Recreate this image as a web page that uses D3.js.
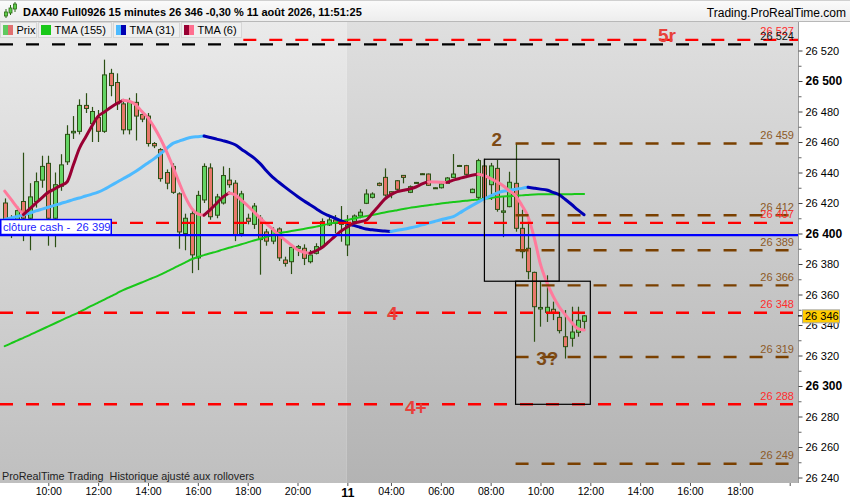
<!DOCTYPE html>
<html>
<head>
<meta charset="utf-8">
<script src="https://cdn.jsdelivr.net/npm/d3@7/dist/d3.min.js"></script>
<style>
  html, body { margin: 0; padding: 0; background: #ffffff; }
  svg { display: block; font-family: "Liberation Sans", Arial, Helvetica, sans-serif; }
  text { white-space: pre; }
</style>
</head>
<body>
<svg id="chart" width="850" height="500"></svg>
<script>
// ---------------- DATA ----------------
const opens = [26420,26409,26405,26421,26410,26421,26435,26446,26410,26431,
  26447,26466,26467,26484,26472,26476,26467,26505,26499,26485,
  26468,26486,26478,26477,26459,26455,26440,26444,26426,26400,
  26413,26384,26422,26443,26412,26420,26435,26433,26400,26410,
  26406,26410,26401,26395,26403,
  26382.6,26381.5,26390.3,26390.3,26381.5,26387,26391.4,26405.6,26408.9,26408.2,
  26392.5,26407.8,26411.5,26419.8,26423.7,26432.9,26436.8,26427.4,26434.6,26438.1,
  26427,26433.5,26439.2,26439,26430,26430,26432.9,26436.8,26444.3,26444.5,
  26426.8,26423.7,26444.3,26432,26442.7,
  26413.9,26417.6,26432.9,26403.4,26390.3,26374.5,26350.5,26348.3,26350.3,26345,
  26332.3,26331.3,26335.2,26342.4];
const highs = [26423,26412,26418,26453,26433,26440,26451,26451,26440,26452,
  26471,26477,26488,26492,26483,26481,26514,26508,26505,26488,
  26489,26492,26480,26479,26460,26456,26442,26446,26427,26413,
  26415,26428,26446,26446,26426,26444,26443,26435,26428,26413,
  26420,26412,26403,26404,26404,
  26384.8,26391.4,26392.5,26392.9,26389.2,26393.6,26409.9,26412.1,26412.1,26418,
  26412.1,26412.5,26416,26429,26427,26433.5,26442.7,26427.6,26435,26438.2,
  26431.5,26433.8,26439.5,26439.3,26430.3,26433,26437,26452.1,26445,26445,
  26429.5,26449,26449,26446.3,26448.2,
  26424.1,26440.5,26459,26415.6,26410,26375,26368.4,26372.6,26355.3,26348.7,
  26349.8,26352,26352,26346.4];
const lows = [26404,26397,26402,26395,26389,26417,26430,26392,26391,26428,
  26445,26462,26465,26479,26460,26460,26466,26490,26481,26465,
  26465,26461,26473,26457,26456,26434,26429,26426,26390,26389,
  26374,26376,26420,26409,26410,26419,26430,26395,26398,26406,
  26403,26373,26392,26393,26382,
  26378.3,26373.4,26385.2,26379.3,26380.4,26386.3,26391.4,26404.9,26400.1,26394.6,
  26385.2,26406.5,26410,26419.3,26423,26431,26424.2,26423.1,26428,26432.9,
  26426.5,26432.8,26438.5,26431.2,26429.3,26429.5,26432.5,26436.5,26444,26438.5,
  26426.5,26422,26420,26422,26414.3,
  26397.6,26417.2,26401.2,26383.7,26370,26329,26338.9,26342,26343.2,26334.5,
  26318,26325.8,26332.3,26336.5];
const closes = [26409,26405,26415,26410,26424,26434,26444,26410,26432,26445,
  26465,26467,26484,26482,26480,26467,26504,26497,26485,26468,
  26486,26477,26475,26459,26457.5,26436,26433,26427,26401,26410,
  26386,26425,26444,26411,26424,26438,26432,26399,26426,26408,
  26418,26396,26395,26402,26384,
  26380.4,26390.9,26391.4,26383.7,26385.9,26391.4,26407.8,26408.9,26406.7,26406,
  26405.6,26411.5,26414,26425.9,26425.9,26431.6,26425.2,26426.3,26429,26436.8,
  26430.7,26433.1,26438.8,26431.6,26429.6,26432.5,26436.4,26439,26444.6,26438.8,
  26429,26447.8,26423.1,26444.3,26415.8,
  26414.8,26433.6,26403.4,26388.1,26375,26352,26351.5,26351.6,26348.1,26336.3,
  26325.8,26335.4,26343.1,26346];

const tma155 = [26326.1,26327.9,26329.8,26331.6,26333.4,26335.3,26337.2,26339.1,26341.0,26342.9,
  26344.8,26346.6,26348.5,26350.6,26352.7,26354.7,26356.7,26358.8,26360.8,26362.9,
  26364.6,26366.2,26367.9,26369.6,26371.2,26373.0,26375.0,26377.0,26379.1,26381.1,
  26383.1,26384.6,26385.8,26387.0,26388.1,26389.4,26390.6,26391.7,26392.9,26394.2,
  26395.4,26396.6,26397.8,26399.0,26400.1,26400.9,26401.6,26402.3,26403.0,26403.7,
  26404.5,26405.4,26406.3,26407.1,26408.1,26408.9,26409.8,26410.6,26411.4,26412.2,
  26413.0,26413.8,26414.6,26415.3,26416.0,26416.8,26417.4,26418.0,26418.6,26419.1,
  26419.7,26420.2,26420.7,26421.0,26421.4,26421.9,26422.3,26422.8,26423.3,26423.9,
  26424.3,26424.5,26424.8,26425.0,26425.3,26425.6,26425.7,26425.8,26425.8,26425.8,
  26425.8,26425.8,26425.9,26425.9];
const tma31 = [26409.2,26410.2,26411.2,26412.2,26413.4,26414.8,26416.0,26417.2,26418.4,26419.7,
  26420.9,26422.2,26423.3,26424.6,26425.8,26427.1,26429.0,26431.3,26433.6,26435.9,
  26438.1,26440.6,26443.5,26446.3,26449.1,26452.3,26455.7,26459.1,26460.6,26462.0,
  26463.1,26463.5,26463.9,26462.9,26461.9,26460.9,26459.8,26458.2,26455.3,26452.5,
  26449.6,26445.8,26441.1,26436.9,26433.6,26430.4,26427.3,26424.3,26421.5,26418.9,
  26416.3,26413.6,26411.7,26410.0,26408.3,26406.6,26405.3,26404.1,26402.9,26402.4,
  26402.0,26401.6,26401.3,26402.1,26402.8,26403.6,26404.5,26405.7,26406.8,26407.9,
  26409.0,26410.0,26411.0,26413.4,26415.9,26418.3,26420.6,26422.8,26424.6,26426.5,
  26427.7,26428.3,26429.0,26429.6,26430.3,26429.7,26429.1,26428.5,26427.0,26425.4,
  26422.3,26419.0,26415.5,26412.3];
const tma6 = [26427.8,26422.5,26417.1,26412.4,26416.1,26419.9,26423.6,26427.0,26429.2,26431.5,
  26433.8,26444.7,26455.9,26463.3,26470.5,26476.9,26479.7,26482.6,26485.2,26487.4,
  26486.7,26484.5,26480.1,26475.8,26469.6,26462.2,26453.5,26443.7,26433.4,26423.8,
  26416.5,26412.8,26412.0,26415.6,26419.7,26423.8,26426.6,26425.3,26421.8,26418.2,
  26414.2,26410.1,26406.4,26402.8,26399.1,26395.7,26392.5,26389.3,26387.7,26387.1,
  26388.7,26391.0,26394.5,26398.2,26401.6,26404.3,26406.8,26407.7,26408.7,26413.2,
  26417.9,26422.6,26425.5,26427.5,26428.3,26429.2,26430.5,26432.5,26434.0,26433.8,
  26433.6,26433.5,26435.0,26436.1,26437.2,26438.2,26438.9,26438.0,26436.0,26433.9,
  26431.3,26428.0,26424.7,26418.5,26411.0,26397.2,26379.7,26368.1,26359.1,26352.0,
  26346.6,26341.7,26337.6,26336.7];

const dayBreakIndex = 55;
const xTickIndex  = [7, 15, 23, 31, 39, 47, 55, 62, 70, 78, 86, 94, 102, 110, 118, 126];
const xTickLabels = ["10:00","12:00","14:00","16:00","18:00","20:00","11","04:00","06:00","08:00","10:00","12:00","14:00","16:00","18:00",""];
const yTickValues = [26240,26260,26280,26300,26320,26340,26360,26380,26400,26420,26440,26460,26480,26500,26520];
const yTickLabels = ["26 240","26 260","26 280","26 300","26 320","26 340","26 360","26 380","26 400","26 420","26 440","26 460","26 480","26 500","26 520"];
const yMinorTicks = [26250,26270,26290,26310,26330,26350,26370,26390,26410,26430,26450,26470,26490,26510];

const levelPrices = [26527, 26524, 26459, 26412, 26389, 26366, 26319, 26249, 26407, 26348, 26288];
const levelLabels = ["26 527","26 524","26 459","26 412","26 389","26 366","26 319","26 249","26 407","26 348","26 288"];
const levelKinds  = ["red","black","brown","brown","brown","brown","brown","brown","red","red","red"];
const levelStart  = [38.3, null, 82, 82, 82, 82, 82, 82, null, null, null];

const boxStart = [77, 82];
const boxEnd   = [89, 94];
const boxHigh  = [26448.7, 26368.7];
const boxLow   = [26368.7, 26288];

const annTexts = ["5r", "2", "3?", "4", "4+"];
const annIndex = [106.3, 79, 87.1, 62.2, 66.0];
const annPrice = [26525.8, 26457.4, 26313.8, 26343.3, 26281.6];
const annKinds = ["red", "brown", "brown", "red", "red"];

const cashPrice = 26399;
const cashLabel = "clôture cash -  26 399";
const lastLabel = "26 346";
const titleText = "DAX40 Full0926 15 minutes 26 346 -0,30 % 11 août 2026, 11:51:25";
const siteText = "Trading.ProRealTime.com";
const footText = "ProRealTime Trading  Historique ajusté aux rollovers";
const legendLabels = ["Prix", "TMA (155)", "TMA (31)", "TMA (6)"];

// ---------------- LAYOUT / STYLE ----------------
const W = 850, H = 500;
const plot = {left: 0, right: 798, top: 22, bottom: 483};
const FONT = '"Liberation Sans", Arial, Helvetica, sans-serif';
const C = {
  up: "#63d463", down: "#e8786b", wick: "#2c4f14",
  t155: "#19c819", t31up: "#4dbaff", t31dn: "#0000b4", t6up: "#990033", t6dn: "#ff7a9c",
  red: "#ff0000", brown: "#7a4000", black: "#000000",
  redText: "#ff2d2d", brownText: "#8c5a28", blackText: "#111111",
  annRed: "#e8403a", annBrown: "#7d4a15", cash: "#0000ff"
};

const x = d3.scaleLinear().domain([0, 93]).range([4.7, 584.1]);
const y = d3.scaleLinear().domain([26240, 26520]).range([477.5, 50.5]);

const svg = d3.select("#chart");
const defs = svg.append("defs");
function grad(id, c0, c1) {
  const g = defs.append("linearGradient").attr("id", id).attr("x1", 0).attr("y1", 0).attr("x2", 0).attr("y2", 1);
  g.append("stop").attr("offset", "0%").attr("stop-color", c0);
  g.append("stop").attr("offset", "100%").attr("stop-color", c1);
}
grad("bgA", "#eaeaea", "#bfbfbf");
grad("bgB", "#dfdfdf", "#b3b3b3");
grad("hdr", "#fbfbfb", "#ededed");
defs.append("clipPath").attr("id", "plotClip").append("rect")
  .attr("x", plot.left).attr("y", plot.top).attr("width", plot.right - plot.left).attr("height", plot.bottom - plot.top);

svg.append("rect").attr("width", W).attr("height", H).attr("fill", "#ffffff");

// plot background (two sessions)
const dayX = x(dayBreakIndex) - 0.5;
svg.append("rect").attr("x", plot.left).attr("y", plot.top).attr("width", dayX - plot.left).attr("height", plot.bottom - plot.top).attr("fill", "url(#bgA)");
svg.append("rect").attr("x", dayX).attr("y", plot.top).attr("width", plot.right - dayX).attr("height", plot.bottom - plot.top).attr("fill", "url(#bgB)");

const pg = svg.append("g").attr("clip-path", "url(#plotClip)");

// candles
const candleData = opens.map((o, i) => ({i, o, h: highs[i], l: lows[i], c: closes[i]}));
const cg = pg.append("g");
cg.selectAll("line.wick").data(candleData).join("line")
  .attr("class", "wick")
  .attr("x1", d => Math.round(x(d.i)) + 0.5).attr("x2", d => Math.round(x(d.i)) + 0.5)
  .attr("y1", d => y(d.h)).attr("y2", d => y(d.l))
  .attr("stroke", C.wick).attr("stroke-width", 1.2);
cg.selectAll("rect.body").data(candleData).join("rect")
  .attr("class", "body")
  .attr("x", d => Math.round(x(d.i)) - 1.5)
  .attr("width", 4)
  .attr("y", d => y(Math.max(d.o, d.c)))
  .attr("height", d => Math.max(1, Math.abs(y(d.o) - y(d.c))))
  .attr("fill", d => d.c >= d.o ? C.up : C.down)
  .attr("stroke", C.wick).attr("stroke-width", 1);

// moving averages (colour by slope)
function drawTMA(vals, upColor, downColor, width) {
  const g = pg.append("g").attr("fill", "none").attr("stroke-width", width)
    .attr("stroke-linejoin", "round").attr("stroke-linecap", "round");
  const rising = k => vals[k + 1] >= vals[k];
  let i = 0;
  while (i < vals.length - 1) {
    const d = rising(i);
    let j = i;
    while (j < vals.length - 1 && rising(j) === d) j++;
    const pts = d3.range(i, j + 1).map(k => [x(k), y(vals[k])]);
    g.append("path").attr("d", d3.line().curve(d3.curveMonotoneX)(pts)).attr("stroke", d ? upColor : downColor);
    i = j;
  }
}
drawTMA(tma155, C.t155, C.t155, 2);
drawTMA(tma31, C.t31up, C.t31dn, 3);
drawTMA(tma6, C.t6up, C.t6dn, 3);

// horizontal levels
const kindColor = {red: C.red, brown: C.brown, black: C.black};
const kindText = {red: C.redText, brown: C.brownText, black: C.blackText};
levelPrices.forEach((p, k) => {
  const x0 = levelStart[k] == null ? plot.left : x(levelStart[k]);
  pg.append("line").attr("x1", x0).attr("x2", plot.right).attr("y1", y(p)).attr("y2", y(p))
    .attr("stroke", kindColor[levelKinds[k]]).attr("stroke-width", 2.4).attr("stroke-dasharray", "13,13");
});

// cash close line
pg.append("line").attr("x1", plot.left).attr("x2", plot.right).attr("y1", y(cashPrice)).attr("y2", y(cashPrice))
  .attr("stroke", C.cash).attr("stroke-width", 2.2);

// boxes
boxStart.forEach((s, k) => {
  pg.append("rect").attr("x", x(s)).attr("y", y(boxHigh[k]))
    .attr("width", x(boxEnd[k]) - x(s)).attr("height", y(boxLow[k]) - y(boxHigh[k]))
    .attr("fill", "none").attr("stroke", "#000").attr("stroke-width", 1.2);
});

// level labels
levelPrices.forEach((p, k) => {
  pg.append("text").attr("x", 794).attr("y", y(p) - 4.5).attr("text-anchor", "end")
    .attr("font-size", 11).attr("fill", kindText[levelKinds[k]]).text(levelLabels[k]);
});

// annotations
annTexts.forEach((t, k) => {
  pg.append("text").attr("x", x(annIndex[k])).attr("y", y(annPrice[k])).attr("text-anchor", "middle")
    .attr("font-size", 19).attr("font-weight", "bold")
    .attr("fill", annKinds[k] === "red" ? C.annRed : C.annBrown).text(t);
});

// cash label
const cy = y(cashPrice);
pg.append("rect").attr("x", 0.75).attr("y", cy - 15.5).attr("width", 110.5).attr("height", 15)
  .attr("fill", "#ffffff").attr("stroke", C.cash).attr("stroke-width", 1.5);
pg.append("text").attr("x", 3).attr("y", cy - 4).attr("font-size", 11.2).attr("fill", "#2323ff").text(cashLabel);

// footer text inside plot
pg.append("text").attr("x", 2).attr("y", 480).attr("font-size", 10.8).attr("fill", "#222").text(footText);

// right axis
svg.append("line").attr("x1", plot.right + 0.5).attr("x2", plot.right + 0.5).attr("y1", plot.top).attr("y2", plot.bottom)
  .attr("stroke", "#9a9a9a").attr("stroke-width", 1);
const yMinor = svg.append("g").attr("transform", `translate(${plot.right + 0.5},0)`)
  .call(d3.axisRight(y).tickValues(yMinorTicks).tickFormat("").tickSize(3));
yMinor.select(".domain").remove();
yMinor.selectAll("line").attr("stroke", "#666");
const yg = svg.append("g").attr("transform", `translate(${plot.right + 0.5},0)`)
  .call(d3.axisRight(y).tickValues(yTickValues).tickFormat((d, i) => yTickLabels[i]).tickSize(4).tickPadding(3));
yg.select(".domain").remove();
yg.attr("font-family", FONT).attr("font-size", 11);
yg.selectAll("line").attr("stroke", "#444");
yg.selectAll("text").attr("fill", "#000")
  .attr("font-weight", d => d % 100 === 0 ? "bold" : "normal")
  .attr("font-size", d => d % 100 === 0 ? 12 : 11);

// last price marker
const ly = y(closes[closes.length - 1]);
svg.append("line").attr("x1", plot.right).attr("x2", plot.right + 5).attr("y1", ly).attr("y2", ly).attr("stroke", "#000").attr("stroke-width", 1.2);
svg.append("rect").attr("x", 802.5).attr("y", ly - 6).attr("width", 37).attr("height", 13)
  .attr("fill", "#ffcc00").attr("stroke", "#a8a8a8").attr("stroke-width", 1);
svg.append("text").attr("x", 805).attr("y", ly + 4).attr("font-size", 11).attr("fill", "#000").text(lastLabel);

// bottom axis
const xg = svg.append("g").attr("transform", `translate(0,${plot.bottom})`)
  .call(d3.axisBottom(x).tickValues(xTickIndex).tickFormat((d, i) => xTickLabels[i]).tickSize(3).tickPadding(2));
xg.select(".domain").remove();
xg.attr("font-family", FONT).attr("font-size", 10.5);
xg.selectAll("line").attr("stroke", "#555");
xg.selectAll("text").attr("fill", "#000")
  .attr("font-weight", (d, i) => xTickLabels[i] === "11" ? "bold" : "normal")
  .attr("font-size", (d, i) => xTickLabels[i] === "11" ? 12.5 : 10.5);

// header
svg.append("rect").attr("x", 0).attr("y", 0).attr("width", W).attr("height", 21).attr("fill", "url(#hdr)");
svg.append("line").attr("x1", 0).attr("x2", W).attr("y1", 21.5).attr("y2", 21.5).attr("stroke", "#b8b8b8");
svg.append("line").attr("x1", 0).attr("x2", W).attr("y1", 0.5).attr("y2", 0.5).attr("stroke", "#d0d0d0");
const icon = svg.append("g");
[[6, 9, 18, 12, 16], [10.5, 5, 15, 8, 13], [15, 2, 12, 4, 9]].forEach(([cx, wt, wb, bt, bb]) => {
  icon.append("line").attr("x1", cx).attr("x2", cx).attr("y1", wt).attr("y2", wb).attr("stroke", "#2c6a14");
  icon.append("rect").attr("x", cx - 1.5).attr("y", bt).attr("width", 3).attr("height", bb - bt)
    .attr("fill", "#5fce4c").attr("stroke", "#2c6a14").attr("stroke-width", 0.8);
});
svg.append("text").attr("x", 23).attr("y", 16).attr("font-size", 11).attr("font-weight", "bold").attr("fill", "#000").text(titleText);
svg.append("text").attr("x", 846).attr("y", 16.5).attr("text-anchor", "end").attr("font-size", 12).attr("fill", "#000").text(siteText);

// legend
const legCells = [[0, 37], [38, 112], [113, 180], [181, 242]];
const legSw = [["#5fc95f", "#e07070"], [C.t155, C.t155], [C.t31up, C.t31dn], [C.t6up, "#ff6f8f"]];
const lg = svg.append("g");
legendLabels.forEach((lab, k) => {
  const [a, b] = legCells[k];
  lg.append("rect").attr("x", a + 0.5).attr("y", 22.5).attr("width", b - a - 1).attr("height", 15)
    .attr("fill", "#efefef").attr("stroke", "#d6d6d6");
  lg.append("rect").attr("x", a + 3).attr("y", 25).attr("width", 5).attr("height", 10).attr("fill", legSw[k][0]);
  lg.append("rect").attr("x", a + 8).attr("y", 25).attr("width", 5).attr("height", 10).attr("fill", legSw[k][1]);
  lg.append("text").attr("x", a + 16.5).attr("y", 34.3).attr("font-size", 11).attr("fill", "#000").text(lab);
});
</script>
</body>
</html>
